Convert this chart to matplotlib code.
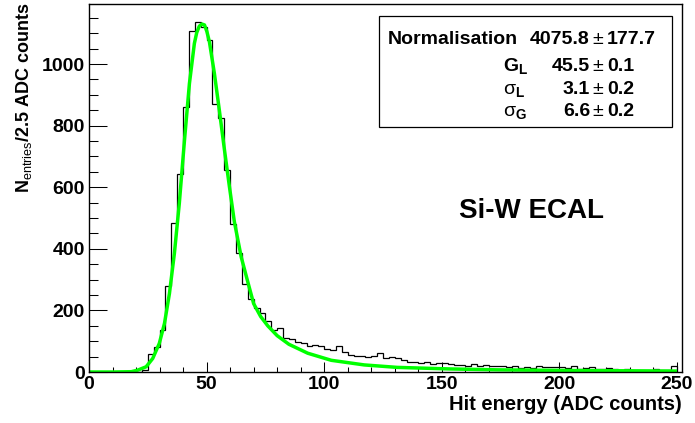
import numpy as np
import matplotlib
matplotlib.use("Agg")
import matplotlib.pyplot as plt
from matplotlib.patches import Rectangle
from matplotlib.ticker import MultipleLocator

plt.rcParams['font.family'] = ['Liberation Sans', 'DejaVu Sans']
plt.rcParams['font.weight'] = 'bold'
plt.rcParams['mathtext.fontset'] = 'custom'
plt.rcParams['mathtext.rm'] = 'Liberation Sans:weight=normal'
plt.rcParams['mathtext.bf'] = 'Liberation Sans:weight=bold'
plt.rcParams['mathtext.it'] = 'Liberation Sans:style=italic:weight=normal'

# histogram: 100 bins of 2.5 ADC counts from 0 to 250
bin_edges = np.arange(0, 250.01, 2.5)
counts = [0, 0, 0, 0, 0, 0, 0, 0, 1, 6,
          57, 82, 136, 279, 483, 643, 859, 1107, 1137, 1121,
          1078, 869, 824, 656, 480, 385, 286, 236, 207, 190,
          167, 136, 142, 109, 106, 98, 95, 84, 88, 85,
          76, 70, 86, 66, 55, 52, 52, 50, 52, 62,
          45, 50, 46, 40, 33, 34, 30, 32, 25, 30,
          28, 25, 24, 22, 20, 25, 20, 22, 20, 20,
          18, 17, 18, 14, 16, 14, 18, 17, 16, 16,
          17, 14, 18, 11, 14, 15, 11, 10, 12, 9,
          7, 9, 6, 8, 6, 5, 9, 7, 5, 20]

# fitted curve
fit_x = [0, 10, 18, 20.7, 24.3, 27.1, 29.9, 32.1, 34.2, 36.3, 38.4, 40.6,
         42.7, 44.8, 45.8, 46.9, 48, 49.1, 50.1, 51.2, 53.3, 55.4, 57.6,
         59.7, 61.8, 64.7, 67.5, 70, 73, 76, 80, 85, 93, 103, 117, 131,
         153, 174, 202, 250]
fit_y = [0, 0, 1, 6, 17, 44, 93, 158, 255, 385, 548, 753,
         937, 1067, 1102, 1123, 1130, 1127, 1106, 1072, 970, 851, 721,
         602, 488, 374, 293, 222, 180, 150, 118, 90, 61, 38, 23, 15,
         10, 7, 5, 3]

stat_names = ["Normalisation", r"G$_{\mathbf{L}}$",
              r"$\mathrm{\sigma}_{\mathbf{L}}$", r"$\mathrm{\sigma}_{\mathbf{G}}$"]
stat_weights = ['bold', 'bold', 'normal', 'normal']
stat_vals = ["4075.8", "45.5", "3.1", "6.6"]
stat_errs = ["177.7", "0.1", "0.2", "0.2"]

W, H = 695, 423
fig = plt.figure(figsize=(W / 100, H / 100), dpi=100)
ax = fig.add_axes([89 / W, 1 - 372 / H, (681.7 - 89) / W, (372 - 4) / H])

ax.stairs(counts, bin_edges, baseline=0, color='black', lw=0.9)
ax.plot(fit_x, fit_y, color='#00ff00', lw=2.5, solid_capstyle='butt')

ax.set_xlim(0, 252)
ax.set_ylim(0, 1195)
ax.xaxis.set_major_locator(MultipleLocator(50))
ax.xaxis.set_minor_locator(MultipleLocator(10))
ax.yaxis.set_major_locator(MultipleLocator(200))
ax.yaxis.set_minor_locator(MultipleLocator(50))
ax.tick_params(which='both', direction='in', top=False, right=False,
               labelsize=14, width=0.75, pad=3)
ax.tick_params(axis='y', which='major', length=13)
ax.tick_params(axis='y', which='minor', length=6.5)
ax.tick_params(axis='x', which='major', length=7)
ax.tick_params(axis='x', which='minor', length=3.5)
for s in ax.spines.values():
    s.set_linewidth(1.0)


def fx(px):
    return px / W


def fy(py):
    return 1 - py / H


fig.text(fx(682), fy(404), "Hit energy (ADC counts)", ha='right', va='center',
         fontsize=14.5, fontweight='bold')
fig.text(fx(24), fy(2), r"N$_{\mathrm{entries}}$/2.5 ADC counts", rotation=90,
         ha='center', va='top', fontsize=13, fontweight='bold')
fig.text(fx(459), fy(218), "Si-W ECAL", ha='left', va='baseline',
         fontsize=20, fontweight='bold')

# fit parameter box
fig.add_artist(Rectangle((fx(379), fy(127)), (672 - 379) / W, (127 - 16) / H,
                         transform=fig.transFigure, fill=False, lw=0.9,
                         edgecolor='black'))
rows = [44, 71, 94, 116]
name_x = [388, 503, 503, 503]
for i in range(4):
    fig.text(fx(name_x[i]), fy(rows[i]), stat_names[i], ha='left',
             va='baseline', fontsize=14, fontweight=stat_weights[i])
    fig.text(fx(590), fy(rows[i]), stat_vals[i], ha='right', va='baseline',
             fontsize=14, fontweight='bold')
    fig.text(fx(598), fy(rows[i]), "\u00b1", ha='center', va='baseline',
             fontsize=14, fontweight='normal')
    fig.text(fx(607), fy(rows[i]), stat_errs[i], ha='left', va='baseline',
             fontsize=14, fontweight='bold')

fig.savefig("out.png", dpi=100)
